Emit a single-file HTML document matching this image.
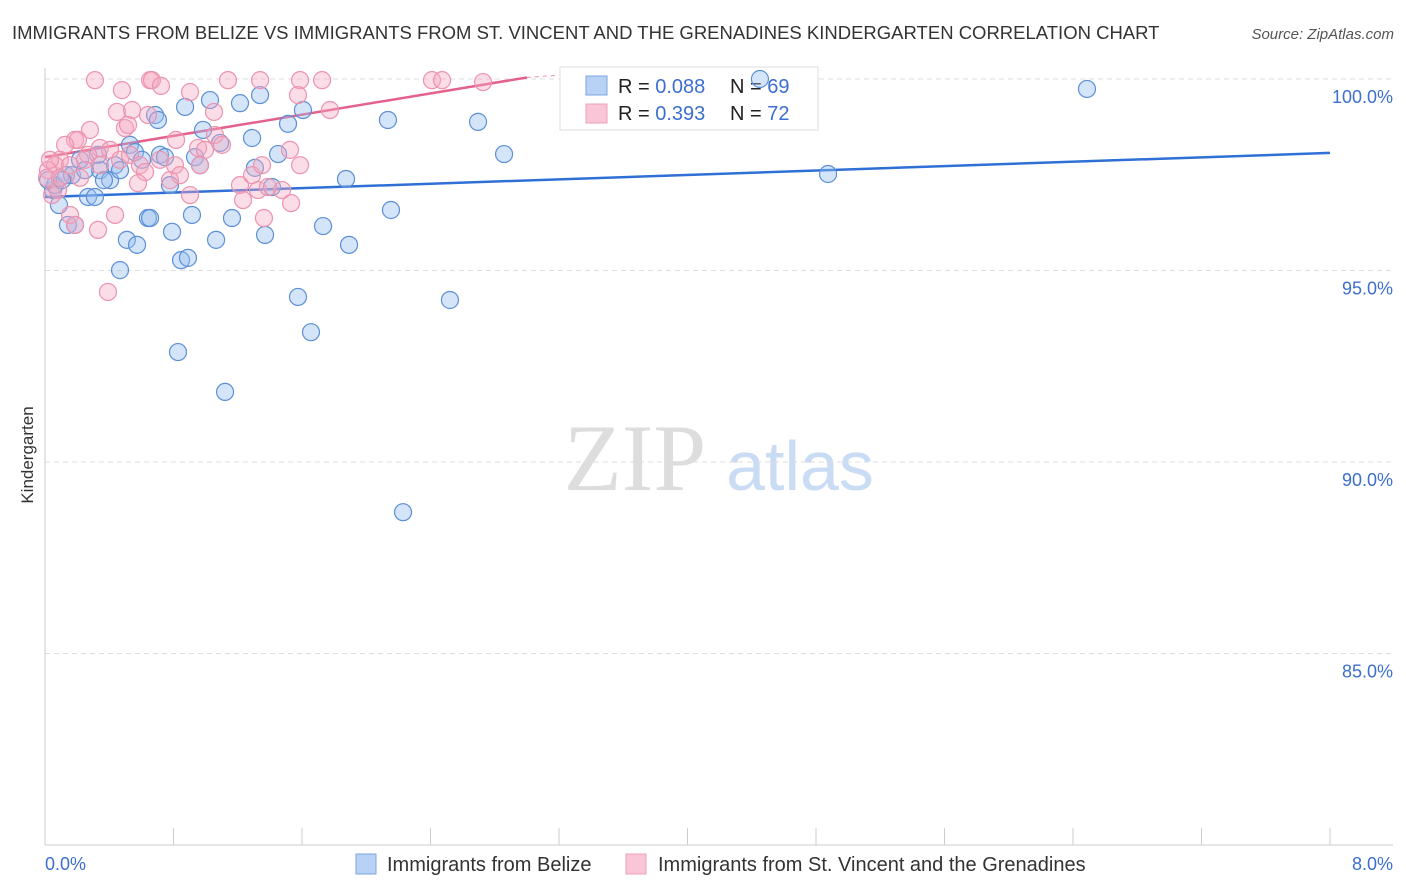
<!DOCTYPE html>
<html><head><meta charset="utf-8"><style>
body{margin:0;background:#fff;font-family:"Liberation Sans",sans-serif;}
svg{display:block}
</style></head><body>
<svg id="chart" width="1406" height="892">
<text x="12" y="39" font-size="18.5" fill="#333">IMMIGRANTS FROM BELIZE VS IMMIGRANTS FROM ST. VINCENT AND THE GRENADINES KINDERGARTEN CORRELATION CHART</text>
<text x="1394" y="39" font-size="15" fill="#555" font-style="italic" text-anchor="end">Source: ZipAtlas.com</text>
<text x="635" y="490" font-size="95" fill="#ddd" font-family="Liberation Serif,serif" text-anchor="middle">ZIP</text>
<text x="800" y="490" font-size="70" fill="#c9dcf3" text-anchor="middle">atlas</text>
<text transform="translate(33,455) rotate(-90)" font-size="17" fill="#333" text-anchor="middle">Kindergarten</text>
<g id="grid"></g><g id="lines"></g>
<g>
<rect x="560" y="67" width="258" height="63" fill="#fff" stroke="#ddd"/>
<rect x="586" y="76" width="21" height="19" fill="#b8d2f5" stroke="#7aa5e0"/>
<rect x="586" y="104" width="21" height="19" fill="#f8c6d6" stroke="#eea0b8"/>
<text x="618" y="93" font-size="20" fill="#222">R = <tspan fill="#3d6fce">0.088</tspan></text>
<text x="730" y="93" font-size="20" fill="#222">N = <tspan fill="#3d6fce">69</tspan></text>
<text x="618" y="120" font-size="20" fill="#222">R = <tspan fill="#3d6fce"> 0.393</tspan></text>
<text x="730" y="120" font-size="20" fill="#222">N = <tspan fill="#3d6fce">72</tspan></text>
</g>
<g id="pts"></g>
<g>
<rect x="356" y="854" width="20" height="20" fill="#b8d2f5" stroke="#7aa5e0"/>
<text x="387" y="871" font-size="20" fill="#333">Immigrants from Belize</text>
<rect x="626" y="854" width="20" height="20" fill="#f8c6d6" stroke="#eea0b8"/>
<text x="658" y="871" font-size="20" fill="#333">Immigrants from St. Vincent and the Grenadines</text>
</g>
<text x="45" y="870" font-size="18" fill="#3d6fce">0.0%</text>
<text x="1393" y="870" font-size="18" fill="#3d6fce" text-anchor="end">8.0%</text>
</svg>
<script>
const yTicks=[100,95,90,85];
const yTickLabels=["100.0%","95.0%","90.0%","85.0%"];
const xTicks=[0,0.8,1.6,2.4,3.2,4,4.8,5.6,6.4,7.2,8];
const belizeX=[0.087,0.143,0.187,0.05,0.062,0.131,0.168,0.218,0.268,0.311,0.342,0.405,0.436,0.467,0.33,0.51,0.573,0.467,0.529,0.56,0.604,0.641,0.654,0.685,0.703,0.716,0.747,0.778,0.791,0.828,0.847,0.89,0.872,0.915,0.934,0.965,0.984,1.027,1.065,1.09,1.121,1.164,1.214,1.289,1.307,1.339,1.37,1.413,1.451,1.513,1.575,1.606,1.656,1.731,1.874,1.893,2.135,2.154,2.229,2.521,2.696,2.858,4.451,4.875,6.487,0.019,0.106,0.249,0.367];
const belizeY=[96.71,96.19,96.19,97.10,97.23,97.49,97.49,97.89,96.92,96.92,97.62,97.36,97.75,97.62,98.02,95.80,95.67,95.01,98.28,98.09,97.89,96.37,96.37,99.06,98.93,98.02,97.96,97.23,96.01,92.87,95.27,95.33,99.27,96.45,97.96,97.75,98.67,99.45,95.80,98.33,91.83,96.37,99.37,98.46,97.68,99.58,95.93,97.18,98.04,98.83,94.31,99.19,93.39,96.16,97.39,95.67,98.93,96.58,88.69,94.23,98.88,98.04,100.0,97.52,99.74,97.36,97.36,97.62,97.36];
const svgX=[0.311,0.479,0.654,0.666,0.722,1.139,1.339,1.588,1.725,2.409,2.472,2.727,0.903,1.052,1.575,1.774,0.448,0.542,0.641,0.498,0.517,0.28,0.187,0.205,0.342,0.405,0.125,0.268,0.093,0.062,0.019,0.031,0.156,0.249,0.342,0.467,0.529,0.591,0.623,0.579,0.716,0.816,0.953,1.058,0.778,0.903,0.996,1.214,1.233,1.289,1.326,1.363,1.525,1.588,1.532,1.476,1.351,0.392,0.33,0.156,0.187,0.436,0.044,0.081,0.012,0.093,0.218,0.809,0.965,1.102,1.388,0.84];
const svgY=[99.97,99.71,99.97,99.97,99.82,99.97,99.97,99.97,99.97,99.97,99.97,99.92,99.66,99.14,99.58,99.19,99.14,99.19,99.06,98.72,98.80,98.67,98.41,98.41,98.20,98.15,98.28,98.02,97.89,97.75,97.62,97.89,97.75,97.89,97.75,97.89,98.02,97.75,97.57,97.28,97.89,98.41,98.20,98.54,97.36,96.97,98.15,97.23,96.84,97.49,97.10,96.37,98.15,97.75,96.76,97.10,97.75,94.44,96.06,96.45,96.19,96.45,96.97,97.10,97.42,97.42,97.42,97.75,97.75,98.28,97.18,97.49];
const belizeTrend=[[0,96.92],[8,98.07]];
const svgTrend=[[0,97.96],[3,100.04]];
const svgTrendExt=[[3,100.04],[3.2,100.1]];
const NS="http://www.w3.org/2000/svg";
const X=v=>45+v/8*1285, Y=v=>79+(100-v)*38.3;
function mk(tag,attrs,parent){const e=document.createElementNS(NS,tag);for(const k in attrs)e.setAttribute(k,attrs[k]);parent.appendChild(e);return e;}
const grid=document.getElementById('grid');
yTicks.forEach((t,i)=>{
 const l=mk('line',{x1:45,x2:1393,y1:Y(t),y2:Y(t),stroke:'#ddd','stroke-dasharray':'5,4'},grid);
 
 
 const tx=mk('text',{x:1393,y:Y(t)+24,'font-size':18,fill:'#3d6fce','text-anchor':'end'},grid);
 tx.textContent=yTickLabels[i];
 
 
});
const ax=mk('line',{x1:45,x2:1393,y1:845,y2:845,stroke:'#ccc'},grid);


const ay=mk('line',{x1:45,x2:45,y1:68,y2:845,stroke:'#ccc'},grid);


xTicks.forEach(t=>{
 const l=mk('line',{x1:X(t),x2:X(t),y1:828,y2:845,stroke:'#ccc'},grid);
 
 
});
const pts=document.getElementById('pts');
belizeX.forEach((x,i)=>{
 const c=mk('circle',{cx:X(x),cy:Y(belizeY[i]),r:8.5,fill:'rgba(150,190,240,0.4)',stroke:'#5b8fd6','stroke-width':1.2},pts);
 
 
});
svgX.forEach((x,i)=>{
 const c=mk('circle',{cx:X(x),cy:Y(svgY[i]),r:8.5,fill:'rgba(245,170,195,0.4)',stroke:'#ec93ae','stroke-width':1.2},pts);
 
 
});
const lines=document.getElementById('lines');
const b=mk('line',{x1:X(belizeTrend[0][0]),y1:Y(belizeTrend[0][1]),x2:X(belizeTrend[1][0]),y2:Y(belizeTrend[1][1]),stroke:'#2f6fd6','stroke-width':2.5},lines);


const p=mk('line',{x1:X(svgTrend[0][0]),y1:Y(svgTrend[0][1]),x2:X(svgTrend[1][0]),y2:Y(svgTrend[1][1]),stroke:'#e5608a','stroke-width':2.5},lines);


const pe=mk('line',{x1:X(svgTrendExt[0][0]),y1:Y(svgTrendExt[0][1]),x2:X(svgTrendExt[1][0]),y2:Y(svgTrendExt[1][1]),stroke:'#e5608a','stroke-width':1.2,'stroke-dasharray':'4,4','stroke-opacity':0.6},lines);


</script>
</body></html>
